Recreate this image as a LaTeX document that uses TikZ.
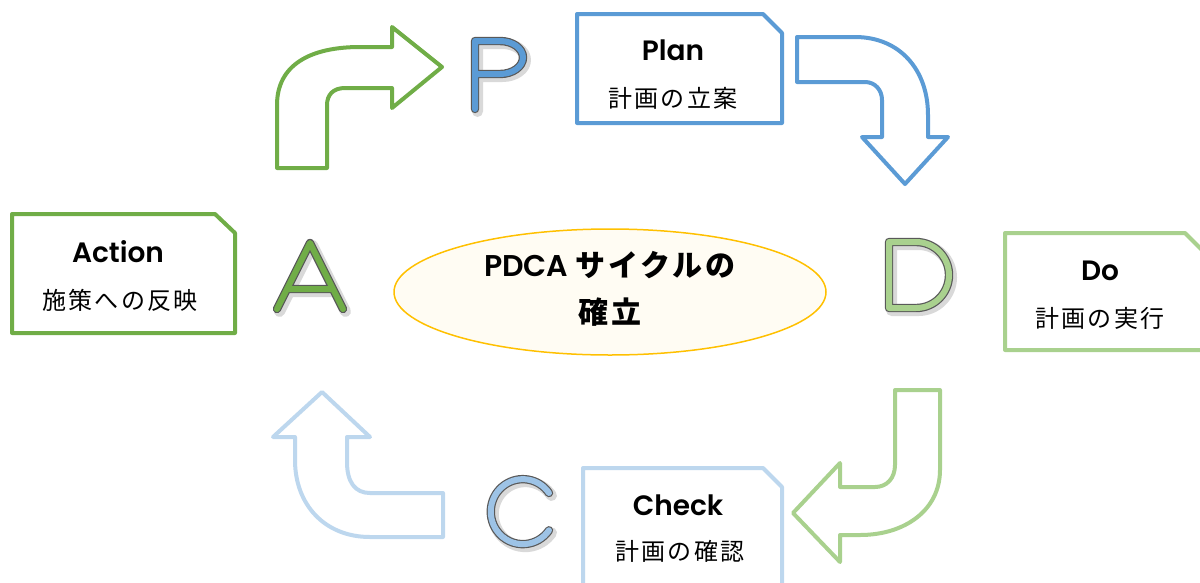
\documentclass[tikz,border=0pt]{standalone}
\usepackage{fontspec}
\setmainfont{Poppins}[BoldFont={Poppins SemiBold}]
\newfontfamily\jpfont[LetterSpace=10]{Noto Sans CJK JP}
\usetikzlibrary{shapes.geometric}

\definecolor{planblue}{HTML}{5B9BD5}
\definecolor{actgreen}{HTML}{70AD47}
\definecolor{dogreen}{HTML}{A9D18E}
\definecolor{checkblue}{HTML}{BDD7EE}
\definecolor{cletter}{HTML}{9DC3E6}
\definecolor{edgegray}{HTML}{595959}
\definecolor{goalgold}{HTML}{FFC000}
\definecolor{goalfill}{HTML}{FFFCF3}

\tikzset{
  snipbox/.style={line width=4pt, line join=round, fill=white},
  turnarrow/.style={line width=4pt, line join=round, fill=white},
  letterline/.style={draw=edgegray, line width=1.2pt, double distance=6pt, line cap=round, line join=round},
  lettershadow/.style={draw=black, opacity=0.15, line width=11pt, line cap=round, line join=round, shift={(2.5,2.5)}},
  boxtitle/.style={font=\fontsize{28}{30}\selectfont\bfseries},
  boxsub/.style={font=\jpfont\fontsize{24}{26}\selectfont},
  goaltext/.style={font=\fontsize{30}{32}\selectfont\bfseries},
}

\begin{document}
\begin{tikzpicture}[x=1pt, y=-1pt]
\useasboundingbox (0,0) rectangle (1200,582);
\clip (0,0) rectangle (1200,582);

% centre
\filldraw[draw=goalgold, fill=goalfill, line width=1.5pt] (610,292) ellipse [x radius=216, y radius=63];
\node[goaltext] (goal1) at (610,265) {PDCA {\jpfont\bfseries サイクルの}};
\node[goaltext] (goal2) at (610,312) {\jpfont\bfseries 確立};

% boxes
\draw[snipbox, draw=planblue] (577,14) -- (763,14) -- (782,33) -- (782,123) -- (577,123) -- cycle;
\node[boxtitle] (plan) at (673,50) {Plan};
\node[boxsub] (plansub) at (673,98) {計画の立案};

\draw[snipbox, draw=actgreen] (12,214) -- (215,214) -- (235,233) -- (235,333) -- (12,333) -- cycle;
\node[boxtitle] (act) at (118,252) {Action};
\node[boxsub] (actsub) at (120,300) {施策への反映};

\draw[snipbox, draw=dogreen] (1005,233) -- (1185,233) -- (1205,253) -- (1205,350) -- (1005,350) -- cycle;
\node[boxtitle] (do) at (1100,271) {Do};
\node[boxsub] (dosub) at (1100,318) {計画の実行};

\draw[snipbox, draw=checkblue] (583,468) -- (763,468) -- (782,487) -- (782,600) -- (583,600) -- cycle;
\node[boxtitle] (check) at (678,505) {Check};
\node[boxsub] (checksub) at (680,551) {計画の確認};

% turning arrows
\draw[turnarrow, draw=actgreen] (277,168) -- (277,105) .. controls (277,65) and (310,47) .. (360,47) -- (392,47) -- (392,27) -- (442,67) -- (392,108) -- (392,88) -- (345,88) .. controls (333,88) and (327,95) .. (327,105) -- (327,168) -- cycle;

\draw[turnarrow, draw=planblue] (797,37) -- (855,37) .. controls (900,37) and (928,70) .. (928,115) -- (928,137) -- (948,137) -- (905,184) -- (862,137) -- (882,137) -- (882,100) .. controls (882,90) and (875,82) .. (865,82) -- (797,82) -- cycle;

\draw[turnarrow, draw=dogreen] (895,390) -- (940,390) -- (940,470) .. controls (940,510) and (905,535) .. (860,535) -- (840,535) -- (840,562) -- (793,513) -- (840,463) -- (840,487) -- (875,487) .. controls (887,487) and (895,478) .. (895,465) -- cycle;

\draw[turnarrow, draw=checkblue] (322,392) -- (370,437) -- (347,437) -- (347,462) .. controls (347,482) and (355,493) .. (370,493) -- (443,493) -- (443,537) -- (370,537) .. controls (325,537) and (295,505) .. (295,460) -- (295,437) -- (273,437) -- cycle;

% letters
\draw[lettershadow] (475,109) -- (475,41) -- (500,41) arc (-90:90:23 and 16.5) -- (475,74);
\draw[letterline, double=planblue] (475,109) -- (475,41) -- (500,41) arc (-90:90:23 and 16.5) -- (475,74);

\draw[lettershadow] (277,309) -- (310,243) -- (343,309) (287,289) -- (333,289);
\draw[letterline, double=actgreen] (277,309) -- (310,243) -- (343,309) (287,289) -- (333,289);

\draw[lettershadow] (889,242) -- (916,242) arc (-90:90:33) -- (889,308) -- cycle;
\draw[letterline, double=dogreen] (889,242) -- (916,242) arc (-90:90:33) -- (889,308) -- cycle;

\draw[lettershadow] (549,493) arc (-35:-325:32 and 32.5);
\draw[letterline, double=cletter] (549,493) arc (-35:-325:32 and 32.5);

\end{tikzpicture}
\end{document}
